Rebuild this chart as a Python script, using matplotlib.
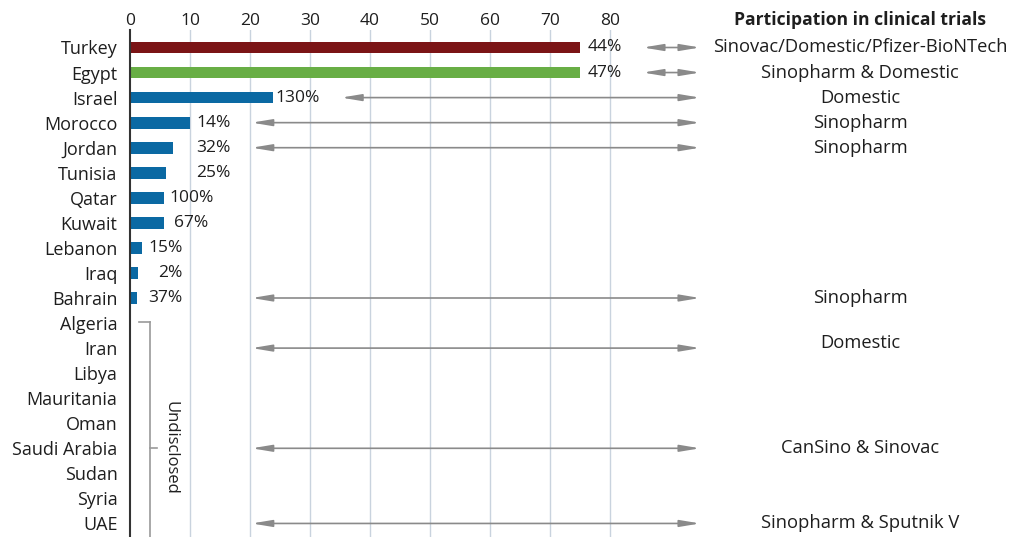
import matplotlib
matplotlib.use("Agg")
import matplotlib.pyplot as plt

# Countries, top to bottom
countries = ["Turkey", "Egypt", "Israel", "Morocco", "Jordan", "Tunisia", "Qatar",
             "Kuwait", "Lebanon", "Iraq", "Bahrain", "Algeria", "Iran", "Libya",
             "Mauritania", "Oman", "Saudi Arabia", "Sudan", "Syria", "UAE"]

# Doses administered per 100 people (disclosed countries only, same order)
doses = [75, 75, 23.8, 10, 7.2, 6, 5.7, 5.6, 2, 1.4, 1.1]
dose_labels = ["44%", "47%", "130%", "14%", "32%", "25%", "100%", "67%", "15%", "2%", "37%"]

# Vaccines each country hosted clinical trials for ("" = none)
trial_vaccines = ["Sinovac/Domestic/Pfizer-BioNTech", "Sinopharm & Domestic", "Domestic",
                  "Sinopharm", "Sinopharm", "", "", "", "", "", "Sinopharm", "",
                  "Domestic", "", "", "", "CanSino & Sinovac", "", "", "Sinopharm & Sputnik V"]

x_ticks = [0, 10, 20, 30, 40, 50, 60, 70, 80]

# --- styling / layout ---
bar_colors = ["#7b1416", "#68ae45"] + ["#0b69a3"] * 9
label_right = [82, 82, 31.7, 16.8, 16.8, 16.8, 14.0, 13.0, 8.8, 8.8, 8.8]
text_y_nudge = {12: -0.22}  # Iran's vaccine text sits a bit above its row
FONT = "Open Sans"
TXT = "#1e1e1e"
GRID = "#c9d3de"
ARROW = "#8a8a8a"

plt.rcParams["font.family"] = [FONT, "DejaVu Sans"]

W, H = 1011, 537
fig = plt.figure(figsize=(W / 100, H / 100), dpi=100)
x0_px, top_px = 130, 30
ax = fig.add_axes([x0_px / W, 0, (W - x0_px) / W, (H - top_px) / H])

px_per_unit = 6.0
row_px = 25.05
first_row_px = 47.5
last_row_px = first_row_px + 19 * row_px
ax.set_xlim(0, (W - x0_px) / px_per_unit)
ax.set_ylim(19 + (H - last_row_px) / row_px, -(first_row_px - top_px) / row_px)

for s in ["top", "right", "bottom"]:
    ax.spines[s].set_visible(False)
ax.spines["left"].set_color("#333333")
ax.spines["left"].set_linewidth(1.5)

ax.xaxis.tick_top()
ax.set_xticks(x_ticks)
ax.set_xticklabels([str(t) for t in x_ticks], fontsize=12.5, color=TXT)
ax.tick_params(axis="x", length=0, pad=1)
for t in x_ticks[1:]:
    ax.axvline(t, color=GRID, lw=1, zorder=0)

ax.set_yticks(range(len(countries)))
ax.set_yticklabels(countries, fontsize=13, color=TXT)
ax.tick_params(axis="y", length=0, pad=9)

# Bars
ax.barh(range(len(doses)), doses, height=0.47, color=bar_colors, zorder=2)

# Value labels
for i, (lab, xr) in enumerate(zip(dose_labels, label_right)):
    ax.text(xr, i, lab, ha="right", va="center", fontsize=12.5, color=TXT)

# Arrows and vaccine names
arrow_end = 95
text_x = 121.7
for i, vac in enumerate(trial_vaccines):
    if not vac:
        continue
    start = label_right[i] + 3.5 if i < len(label_right) else 0
    start = max(start, 20.3)
    ax.annotate("", xy=(arrow_end, i), xytext=(start, i),
                arrowprops=dict(arrowstyle="<|-|>,head_length=1.2,head_width=0.2",
                                color=ARROW, lw=1.2, shrinkA=0, shrinkB=0),
                annotation_clip=False)
    ax.text(text_x, i + text_y_nudge.get(i, 0), vac, ha="center", va="center",
            fontsize=13.2, color=TXT)

ax.text(text_x, -1.11, "Participation in clinical trials", ha="center", va="center",
        fontsize=12.6, fontweight="bold", color=TXT)

# Bracket grouping the undisclosed countries
br = "#9a9a9a"
ax.plot([1.5, 3.33], [10.97, 10.97], color=br, lw=1.2, clip_on=False)
ax.plot([3.33, 3.33], [10.97, 20], color=br, lw=1.2, clip_on=False)
ax.plot([3.33, 4.5], [16, 16], color=br, lw=1.2, clip_on=False)
ax.text(6.8, 16, "Undisclosed", rotation=-90, ha="center", va="center",
        fontsize=12, color=TXT)

fig.savefig("out.png", dpi=100)
